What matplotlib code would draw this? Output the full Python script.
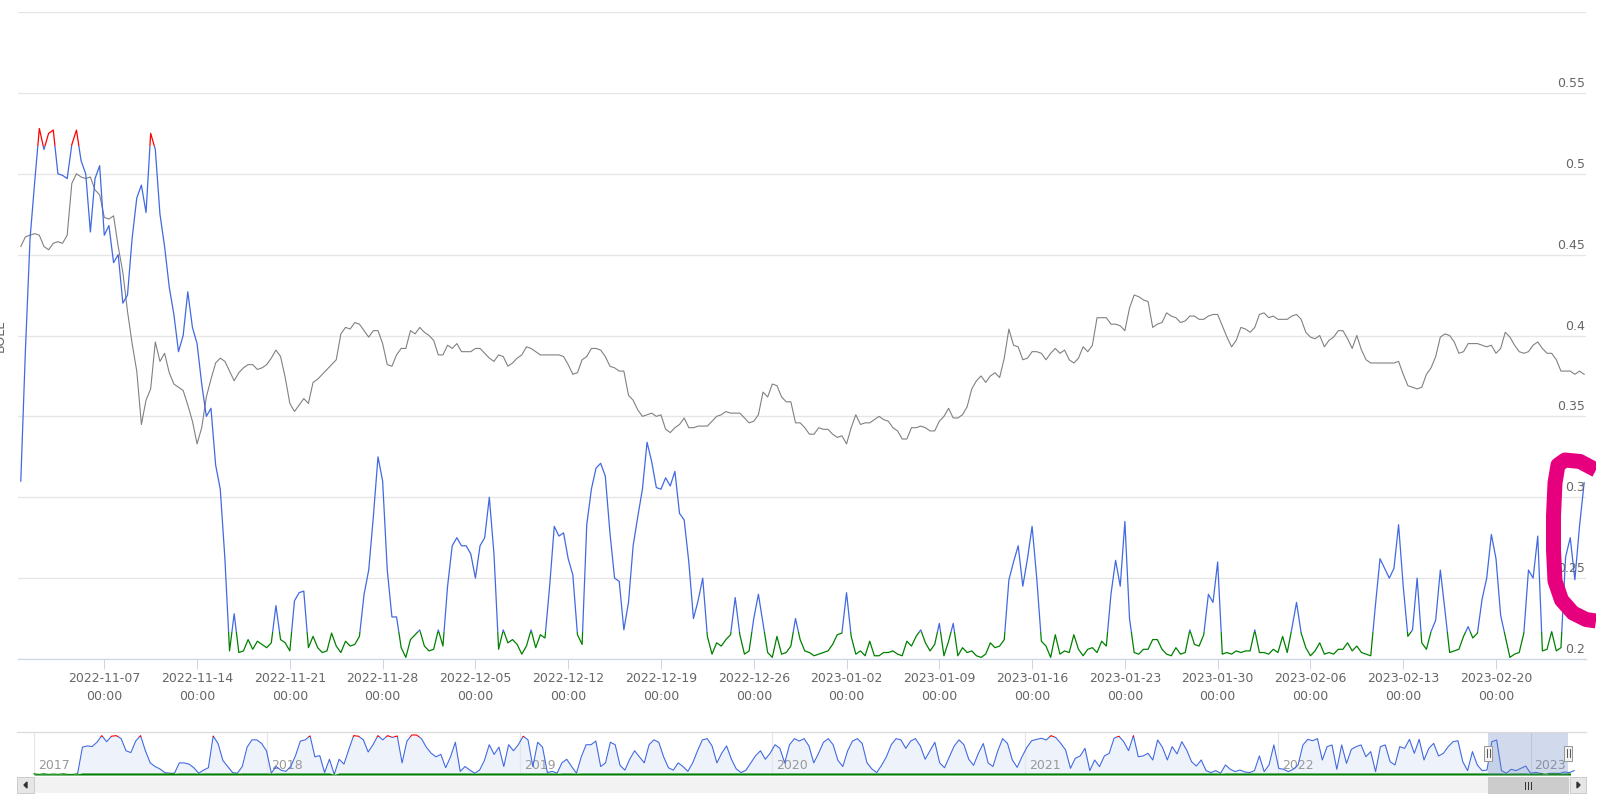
import numpy as np
import pandas as pd
import matplotlib
matplotlib.use("Agg")
import matplotlib.pyplot as plt
import matplotlib.dates as mdates
import matplotlib.transforms as mtransforms
from matplotlib.patches import Rectangle, Polygon
from matplotlib.lines import Line2D

# ---------------- data ----------------
blue_values = [
    0.31, 0.391, 0.46, 0.495, 0.528, 0.515, 0.525, 0.527, 0.50, 0.499,
    0.497, 0.518, 0.527, 0.508, 0.50, 0.464, 0.497, 0.505, 0.462, 0.468,
    0.445, 0.45, 0.42, 0.425, 0.46, 0.485, 0.493, 0.476, 0.525, 0.515,
    0.475, 0.455, 0.43, 0.413, 0.39, 0.40, 0.427, 0.405, 0.395, 0.37,
    0.35, 0.355, 0.32, 0.305, 0.262, 0.205, 0.228, 0.204, 0.205, 0.212,
    0.206, 0.211, 0.209, 0.207, 0.21, 0.233, 0.212, 0.21, 0.205, 0.236,
    0.241, 0.242, 0.207, 0.214, 0.207, 0.204, 0.205, 0.216, 0.208, 0.204,
    0.211, 0.208, 0.209, 0.214, 0.24, 0.255, 0.288, 0.325, 0.31, 0.255,
    0.226, 0.226, 0.207, 0.201, 0.212, 0.215, 0.218, 0.208, 0.205, 0.206,
    0.218, 0.208, 0.245, 0.27, 0.275, 0.27, 0.27, 0.265, 0.25, 0.27,
    0.275, 0.30, 0.265, 0.206, 0.218, 0.21, 0.212, 0.209, 0.203, 0.208,
    0.218, 0.207, 0.215, 0.213, 0.245, 0.282, 0.276, 0.278, 0.262, 0.252,
    0.215, 0.209, 0.283, 0.305, 0.318, 0.321, 0.313, 0.278, 0.25, 0.248,
    0.218, 0.235, 0.27, 0.288, 0.305, 0.334, 0.322, 0.306, 0.305, 0.312,
    0.307, 0.316, 0.29, 0.286, 0.26, 0.225, 0.236, 0.25, 0.214, 0.203,
    0.21, 0.208, 0.212, 0.215, 0.238, 0.215, 0.203, 0.205, 0.225, 0.24,
    0.222, 0.204, 0.201, 0.214, 0.203, 0.204, 0.208, 0.225, 0.212, 0.205,
    0.204, 0.202, 0.203, 0.204, 0.205, 0.209, 0.215, 0.216, 0.241, 0.214,
    0.203, 0.205, 0.202, 0.211, 0.202, 0.202, 0.204, 0.204, 0.205, 0.203,
    0.202, 0.211, 0.208, 0.214, 0.218, 0.21, 0.205, 0.209, 0.222, 0.202,
    0.211, 0.222, 0.202, 0.207, 0.204, 0.205, 0.202, 0.201, 0.203, 0.21,
    0.207, 0.208, 0.212, 0.249, 0.26, 0.27, 0.245, 0.262, 0.282, 0.25,
    0.211, 0.208, 0.201, 0.215, 0.203, 0.205, 0.204, 0.215, 0.206, 0.202,
    0.206, 0.207, 0.204, 0.211, 0.208, 0.24, 0.261, 0.245, 0.285, 0.225,
    0.204, 0.203, 0.206, 0.206, 0.212, 0.212, 0.206, 0.203, 0.202, 0.207,
    0.203, 0.204, 0.218, 0.209, 0.208, 0.215, 0.24, 0.235, 0.26, 0.203,
    0.204, 0.203, 0.205, 0.204, 0.205, 0.205, 0.218, 0.204, 0.204, 0.203,
    0.206, 0.204, 0.214, 0.204, 0.219, 0.235, 0.216, 0.207, 0.202, 0.205,
    0.21, 0.203, 0.204, 0.203, 0.206, 0.206, 0.21, 0.205, 0.208, 0.204,
    0.203, 0.202, 0.233, 0.262, 0.256, 0.25, 0.256, 0.283, 0.245, 0.214,
    0.218, 0.25, 0.21, 0.206, 0.217, 0.224, 0.255, 0.23, 0.204, 0.205,
    0.206, 0.214, 0.22, 0.213, 0.216, 0.237, 0.25, 0.277, 0.262, 0.227,
    0.214, 0.201, 0.203, 0.204, 0.216, 0.255, 0.25, 0.276, 0.205, 0.206,
    0.217, 0.205, 0.207, 0.263, 0.275, 0.249, 0.282, 0.309,
]

gray_values = [
    0.455, 0.461, 0.462, 0.463, 0.462, 0.455, 0.453, 0.457, 0.458, 0.457,
    0.462, 0.494, 0.50, 0.498, 0.497, 0.498, 0.49, 0.487, 0.473, 0.472,
    0.474, 0.455, 0.439, 0.415, 0.395, 0.378, 0.345, 0.36, 0.367, 0.396,
    0.384, 0.389, 0.377, 0.37, 0.368, 0.366, 0.357, 0.347, 0.333, 0.343,
    0.362, 0.373, 0.383, 0.386, 0.384, 0.378, 0.372, 0.377, 0.38, 0.382,
    0.382, 0.379, 0.38, 0.382, 0.386, 0.391, 0.387, 0.374, 0.358, 0.353,
    0.357, 0.361, 0.358, 0.371, 0.373, 0.376, 0.379, 0.382, 0.385, 0.401,
    0.405, 0.404, 0.408, 0.407, 0.403, 0.399, 0.403, 0.403, 0.395, 0.382,
    0.381, 0.388, 0.392, 0.392, 0.403, 0.401, 0.405, 0.402, 0.40, 0.397,
    0.388, 0.388, 0.394, 0.392, 0.395, 0.39, 0.39, 0.39, 0.392, 0.392,
    0.389, 0.386, 0.384, 0.388, 0.387, 0.381, 0.383, 0.386, 0.388, 0.393,
    0.392, 0.39, 0.388, 0.388, 0.388, 0.388, 0.388, 0.387, 0.382, 0.376,
    0.377, 0.385, 0.387, 0.392, 0.392, 0.391, 0.387, 0.381, 0.38, 0.378,
    0.378, 0.363, 0.36, 0.354, 0.35, 0.351, 0.352, 0.35, 0.351, 0.342,
    0.34, 0.343, 0.345, 0.349, 0.343, 0.343, 0.344, 0.344, 0.344, 0.347,
    0.35, 0.351, 0.353, 0.352, 0.352, 0.352, 0.349, 0.346, 0.347, 0.351,
    0.365, 0.362, 0.37, 0.369, 0.362, 0.359, 0.359, 0.346, 0.346, 0.343,
    0.339, 0.339, 0.343, 0.342, 0.342, 0.339, 0.337, 0.338, 0.333, 0.343,
    0.351, 0.345, 0.346, 0.346, 0.348, 0.35, 0.348, 0.347, 0.343, 0.341,
    0.336, 0.336, 0.343, 0.343, 0.344, 0.343, 0.341, 0.341, 0.347, 0.35,
    0.355, 0.349, 0.349, 0.351, 0.356, 0.367, 0.372, 0.375, 0.371, 0.375,
    0.377, 0.374, 0.386, 0.404, 0.394, 0.393, 0.385, 0.386, 0.39, 0.39,
    0.389, 0.385, 0.389, 0.392, 0.389, 0.391, 0.385, 0.383, 0.386, 0.393,
    0.39, 0.394, 0.411, 0.411, 0.411, 0.407, 0.407, 0.406, 0.403, 0.417,
    0.425, 0.424, 0.422, 0.421, 0.405, 0.407, 0.408, 0.414, 0.412, 0.411,
    0.408, 0.409, 0.412, 0.412, 0.41, 0.41, 0.412, 0.413, 0.413, 0.406,
    0.399, 0.393, 0.397, 0.405, 0.404, 0.402, 0.405, 0.413, 0.414, 0.411,
    0.412, 0.41, 0.41, 0.41, 0.412, 0.413, 0.41, 0.402, 0.399, 0.398,
    0.40, 0.393, 0.397, 0.399, 0.403, 0.403, 0.398, 0.392, 0.40, 0.391,
    0.385, 0.383, 0.383, 0.383, 0.383, 0.383, 0.383, 0.384, 0.376, 0.369,
    0.368, 0.367, 0.368, 0.376, 0.38, 0.387, 0.399, 0.401, 0.40, 0.396,
    0.389, 0.39, 0.395, 0.395, 0.395, 0.394, 0.393, 0.394, 0.389, 0.392,
    0.402, 0.399, 0.394, 0.39, 0.389, 0.39, 0.394, 0.396, 0.392, 0.389,
    0.389, 0.385, 0.378, 0.378, 0.378, 0.376, 0.378, 0.376,
]

# navigator series (weekly, 2017-01-29 .. 2023-02-26)
nav_values = [
    0.21, 0.205, 0.21, 0.205, 0.208, 0.205, 0.21, 0.205, 0.205, 0.21,
    0.43, 0.44, 0.435, 0.47, 0.525, 0.475, 0.52, 0.525, 0.50, 0.40,
    0.385, 0.48, 0.525, 0.40, 0.30, 0.27, 0.25, 0.22, 0.215, 0.214,
    0.30, 0.30, 0.29, 0.26, 0.215, 0.24, 0.26, 0.522, 0.46, 0.32,
    0.27, 0.22, 0.215, 0.27, 0.43, 0.49, 0.49, 0.46, 0.40, 0.215,
    0.27, 0.24, 0.23, 0.27, 0.36, 0.48, 0.49, 0.523, 0.35, 0.36,
    0.22, 0.33, 0.205, 0.33, 0.29, 0.41, 0.525, 0.52, 0.49, 0.39,
    0.45, 0.525, 0.49, 0.525, 0.51, 0.522, 0.30, 0.48, 0.53, 0.53,
    0.50, 0.43, 0.38, 0.35, 0.37, 0.26, 0.35, 0.47, 0.23, 0.27,
    0.24, 0.215, 0.24, 0.32, 0.45, 0.37, 0.43, 0.27, 0.45, 0.40,
    0.45, 0.52, 0.49, 0.27, 0.47, 0.43, 0.22, 0.23, 0.214, 0.30,
    0.33, 0.27, 0.215, 0.35, 0.45, 0.45, 0.48, 0.27,
    0.30, 0.47, 0.45, 0.28, 0.24, 0.33, 0.40, 0.35, 0.30, 0.45,
    0.49, 0.47, 0.35, 0.26, 0.24, 0.30, 0.27, 0.23, 0.30, 0.40,
    0.49, 0.50, 0.44, 0.30, 0.38, 0.44, 0.33, 0.25, 0.22, 0.24,
    0.30, 0.36, 0.40, 0.33, 0.38, 0.45, 0.42, 0.30, 0.45, 0.50,
    0.48, 0.50, 0.44, 0.30, 0.38, 0.47, 0.50, 0.45, 0.32, 0.27,
    0.40, 0.48, 0.50, 0.46, 0.30, 0.25, 0.22, 0.28, 0.35, 0.45,
    0.50, 0.49, 0.42, 0.48, 0.50, 0.44, 0.33, 0.40, 0.47, 0.30,
    0.26, 0.35, 0.44, 0.49, 0.45, 0.33, 0.28, 0.38, 0.46, 0.30,
    0.27, 0.40,
    0.50, 0.461, 0.324, 0.263, 0.351, 0.428, 0.483, 0.494, 0.503, 0.489,
    0.525, 0.508, 0.461, 0.406, 0.255, 0.338, 0.357, 0.42, 0.236, 0.324,
    0.269, 0.357, 0.379, 0.503, 0.52, 0.475, 0.401, 0.525, 0.351, 0.357,
    0.379, 0.324, 0.489, 0.428, 0.324, 0.434, 0.374, 0.475, 0.406, 0.31,
    0.274, 0.324, 0.236, 0.22, 0.236, 0.214, 0.283, 0.247, 0.228, 0.241,
    0.225, 0.22, 0.236, 0.357, 0.228, 0.283, 0.448, 0.255, 0.247, 0.228,
    0.247, 0.283, 0.448, 0.494, 0.483, 0.50, 0.324, 0.434, 0.448, 0.247,
    0.448, 0.296, 0.412, 0.434, 0.448, 0.351, 0.393, 0.228, 0.434, 0.448,
    0.31, 0.283, 0.434, 0.42, 0.494, 0.379, 0.494, 0.324, 0.42, 0.461,
    0.357, 0.379, 0.434, 0.475, 0.483, 0.31, 0.236, 0.393, 0.283, 0.236,
    0.241, 0.475, 0.489, 0.236, 0.214, 0.247, 0.236, 0.255, 0.274, 0.214,
    0.222, 0.214, 0.206, 0.214, 0.214, 0.214, 0.225, 0.22, 0.236,
]

y_ticks = [0.2, 0.25, 0.3, 0.35, 0.4, 0.45, 0.5, 0.55, 0.6]
y_tick_labels = ["0.2", "0.25", "0.3", "0.35", "0.4", "0.45", "0.5", "0.55", ""]
x_tick_dates = ["2022-11-07", "2022-11-14", "2022-11-21", "2022-11-28",
                "2022-12-05", "2022-12-12", "2022-12-19", "2022-12-26",
                "2023-01-02", "2023-01-09", "2023-01-16", "2023-01-23",
                "2023-01-30", "2023-02-06", "2023-02-13", "2023-02-20"]
nav_years = ["2017", "2018", "2019", "2020", "2021", "2022", "2023"]
LOWER, UPPER = 0.217, 0.517
axis_title = "BOLL"

# ---------------- figure ----------------
W, H = 1609, 802
fig = plt.figure(figsize=(W / 100, H / 100), dpi=100)
fig.patch.set_facecolor("white")
pix = mtransforms.Affine2D().scale(1.0 / W, -1.0 / H).translate(0, 1) + fig.transFigure
PX = 0.72  # one pixel in points

BLUE = "#4169e1"
RED = "#ff0000"
GREEN = "#008000"
GRAY = "#808080"
LAB = "#666666"

def frac_box(x0, y0, x1, y1):
    return [x0 / W, 1 - y1 / H, (x1 - x0) / W, (y1 - y0) / H]

# ---- time stamps (ordinal axis, 6-hourly, trading days) ----
days = pd.bdate_range("2022-10-31", "2023-02-24")
stamps = [d + pd.Timedelta(hours=h) for d in days for h in (0, 6, 12, 18)][2:]
stamps = stamps[:len(blue_values)]
idx = np.arange(len(blue_values))
stamp_pos = {s: i for i, s in enumerate(stamps)}
tick_idx = [stamp_pos[pd.Timestamp(d)] for d in x_tick_dates]
tick_lab = [f"{d}\n00:00" for d in x_tick_dates]

# ---------------- main plot ----------------
ax = fig.add_axes(frac_box(18, 12, 1586, 659))
ax.set_xlim(-0.6, len(blue_values) - 1 + 0.4)
ax.set_ylim(0.2, 0.6)
for v in y_ticks:
    ax.axhline(v, color="#e6e6e6", lw=1.4 * PX, zorder=0)

ax.plot(idx, gray_values, color=GRAY, lw=1.1 * PX, zorder=2)
for lo, hi, col in [(0.0, LOWER, GREEN), (LOWER, UPPER, BLUE), (UPPER, 1.0, RED)]:
    ln, = ax.plot(idx, blue_values, color=col, lw=1.25 * PX, zorder=3)
    clip = Rectangle((-50, lo), 1000, hi - lo, transform=ax.transData)
    ln.set_clip_path(clip)

for s in ("top", "left", "right"):
    ax.spines[s].set_visible(False)
ax.spines["bottom"].set_color("#ccd6eb")
ax.spines["bottom"].set_linewidth(1.2 * PX)
ax.spines["bottom"].set_zorder(4)
ax.set_yticks([])
ax.set_xticks(tick_idx)
ax.set_xticklabels(tick_lab, fontsize=9, color=LAB, linespacing=1.45)
ax.tick_params(axis="x", direction="out", length=10 * PX, width=1.0 * PX,
               color="#ccd6eb", pad=2.5)

lab_tr = mtransforms.blended_transform_factory(ax.transAxes, ax.transData) + \
    mtransforms.ScaledTranslation(-1 / 100, 3 / 100, fig.dpi_scale_trans)
for v, lab in zip(y_ticks, y_tick_labels):
    if lab:
        ax.text(1.0, v, lab, transform=lab_tr, ha="right", va="bottom",
                fontsize=9, color=LAB)

fig.text(0.5, 336, axis_title, transform=pix, rotation=90, ha="center",
         va="center", fontsize=9, color=LAB)

# ---------------- navigator ----------------
nav_dates = pd.date_range("2017-01-29", periods=len(nav_values), freq="7D")
nd = mdates.date2num(nav_dates)
nav = fig.add_axes(frac_box(34, 731.5, 1570, 775))
nav.set_xlim(mdates.date2num(pd.Timestamp("2017-01-29")),
             mdates.date2num(pd.Timestamp("2023-02-27")))
nav.set_ylim(0.2, 0.559)
nav.axis("off")
nv = np.array(nav_values)
nav.fill_between(nd, 0.2, nv, color="#eef2fb", lw=0, zorder=1)
year_pos = [nav.get_xlim()[0]] + [mdates.date2num(pd.Timestamp(f"{y}-01-01"))
                                   for y in nav_years[1:]]
for xp, yl in zip(year_pos, nav_years):
    nav.axvline(xp, color="#e6e6e6", lw=1.2 * PX, zorder=2)
    nav.text(xp, 0.0, yl, transform=mtransforms.blended_transform_factory(
        nav.transData, nav.transAxes) + mtransforms.ScaledTranslation(
        4 / 100, 3 / 100, fig.dpi_scale_trans),
        ha="left", va="bottom", fontsize=9, color="#999999", zorder=2)
nav.fill_between(nd, 0.2, np.minimum(nv, LOWER), color=GREEN, lw=0, zorder=3)
for lo, hi, col in [(0.0, LOWER, GREEN), (LOWER, UPPER, BLUE), (UPPER, 1.0, RED)]:
    ln, = nav.plot(nd, nv, color=col, lw=1.1 * PX, zorder=4)
    clip = Rectangle((nd[0] - 100, lo), 5000, hi - lo, transform=nav.transData)
    ln.set_clip_path(clip)
    ln.set_clip_on(True)

sel0 = mdates.date2num(stamps[0])
sel1 = mdates.date2num(stamps[-1])
nav.axvspan(sel0, sel1, color=(102 / 255, 133 / 255, 194 / 255, 0.3), lw=0, zorder=5)
# selection pixel positions
x_sel0 = nav.transData.transform((sel0, 0.3))[0]
x_sel1 = nav.transData.transform((sel1, 0.3))[0]

# navigator outline top
fig.add_artist(Line2D([17, 1586], [731.5, 731.5], transform=pix,
                      color="#d9d9d9", lw=1.2 * PX))

# handles
for xh in (x_sel0, x_sel1):
    fig.add_artist(Rectangle((xh - 4, 745.5), 8, 15, transform=pix,
                             facecolor="#f2f2f2", edgecolor="#999999", lw=1 * PX, zorder=6))
    for dx in (-1.5, 1.5):
        fig.add_artist(Line2D([xh + dx, xh + dx], [749, 757], transform=pix,
                              color="#333333", lw=0.8 * PX, zorder=7))

# scrollbar
fig.add_artist(Rectangle((17, 777), 1569, 16, transform=pix,
                         facecolor="#f2f2f2", edgecolor="#f2f2f2", lw=0))
fig.add_artist(Rectangle((17, 777), 17, 16, transform=pix,
                         facecolor="#e6e6e6", edgecolor="#cccccc", lw=1 * PX))
fig.add_artist(Rectangle((1570, 777), 16, 16, transform=pix,
                         facecolor="#e6e6e6", edgecolor="#cccccc", lw=1 * PX))
fig.add_artist(Polygon([[24, 785], [27, 782], [27, 788]], closed=True,
                       transform=pix, color="#333333"))
fig.add_artist(Polygon([[1580, 785], [1577, 782], [1577, 788]], closed=True,
                       transform=pix, color="#333333"))
fig.add_artist(Rectangle((x_sel0, 777), x_sel1 - x_sel0, 16, transform=pix,
                         facecolor="#cccccc", edgecolor="#cccccc", lw=1 * PX))
xc = (x_sel0 + x_sel1) / 2
for dx in (-3, 0, 3):
    fig.add_artist(Line2D([xc + dx, xc + dx], [782, 789], transform=pix,
                          color="#333333", lw=1 * PX))

# ---------------- hand-drawn magenta mark ----------------
mark_x = [1596, 1580, 1565, 1558, 1555, 1553.5, 1553.5, 1555, 1561.5, 1573, 1586, 1596]
mark_y = [470, 461.5, 460, 465, 483, 516, 550, 581, 600, 613, 619.5, 621]
mark = Line2D(mark_x, mark_y, transform=pix, color="#e6007e", lw=15 * PX,
              solid_joinstyle="round", solid_capstyle="butt", zorder=10)
fig.add_artist(mark)
mclip = Rectangle((0, 0), 1596, 802, transform=pix)
mark.set_clip_path(mclip)

fig.savefig("out.png", dpi=100, facecolor="white")
